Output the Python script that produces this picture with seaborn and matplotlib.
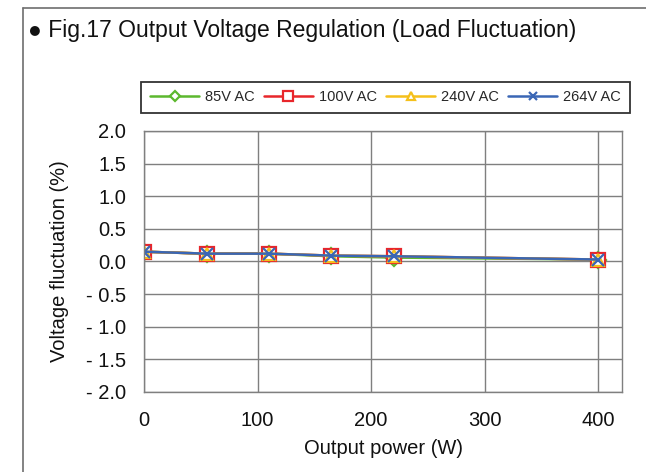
import matplotlib
matplotlib.use("Agg")
import matplotlib.pyplot as plt
from matplotlib.lines import Line2D
import numpy as np
import pandas as pd
import seaborn as sns

# data
power = [0, 55, 110, 165, 220, 400]
v85 = [0.15, 0.12, 0.12, 0.08, 0.06, 0.03]
v100 = [0.15, 0.12, 0.12, 0.09, 0.08, 0.03]
v240 = [0.15, 0.12, 0.12, 0.09, 0.08, 0.03]
v264 = [0.15, 0.12, 0.12, 0.09, 0.08, 0.03]
series_names = ["85V AC", "100V AC", "240V AC", "264V AC"]
series_colors = ["#5cb82e", "#e8262b", "#f5c01a", "#3a66b5"]
series_markers = ["D", "s", "^", "x"]
y_ticks = [-2.0, -1.5, -1.0, -0.5, 0.0, 0.5, 1.0, 1.5, 2.0]
y_tick_labels = ["- 2.0", "- 1.5", "- 1.0", "- 0.5", "0.0", "0.5", "1.0", "1.5", "2.0"]
x_ticks = [0, 100, 200, 300, 400]

sns.set_theme(style="white")
plt.rcParams["font.family"] = ["Liberation Sans", "DejaVu Sans"]

fig = plt.figure(figsize=(6.46, 4.72), dpi=100)
ax = fig.add_axes([0.223, 0.1695, 0.740, 0.553])

values = [v85, v100, v240, v264]
sizes = [8, 10, 9, 9]
for name, vals, col, mk, ms in zip(series_names, values, series_colors, series_markers, sizes):
    sns.lineplot(
        x=power, y=vals, ax=ax, color=col, marker=mk, label=name,
        markersize=ms, markerfacecolor="white" if mk != "x" else col,
        markeredgecolor=col, markeredgewidth=1.6, linewidth=1.8,
    )

ax.set_xlim(0, 421)
ax.set_ylim(-2.0, 2.0)
ax.set_xticks(x_ticks)
ax.set_yticks(y_ticks)
ax.set_yticklabels(y_tick_labels)
ax.tick_params(axis="both", labelsize=14.5, colors="#111111", length=0)
ax.tick_params(axis="y", pad=13)
ax.tick_params(axis="x", pad=14)
ax.grid(True, color="#7f7f7f", linewidth=1.0)
for sp in ax.spines.values():
    sp.set_color("#7f7f7f")
    sp.set_linewidth(1.0)

ax.set_xlabel("Output power (W)", fontsize=14.5, color="#111111", labelpad=6)
ax.set_ylabel("Voltage fluctuation (%)", fontsize=14.5, color="#111111", labelpad=12)

leg = ax.legend(
    loc="lower center", bbox_to_anchor=(0.505, 1.04), ncol=4, fontsize=10.5,
    frameon=True, fancybox=False, edgecolor="black", handlelength=3.4,
    columnspacing=0.6, handletextpad=0.4, borderpad=0.6, markerscale=0.7,
)
leg.get_frame().set_linewidth(1.3)

fig.text(0.043, 0.935, "\u25cf Fig.17 Output Voltage Regulation (Load Fluctuation)",
         fontsize=16.5, color="#111111", va="center", ha="left")

# outer frame (left and top edges)
fig.add_artist(Line2D([0.035, 0.035], [0.0, 0.983], color="#6e6e6e", linewidth=1.2))
fig.add_artist(Line2D([0.035, 1.0], [0.983, 0.983], color="#6e6e6e", linewidth=1.2))

fig.savefig("out.png", dpi=100)
